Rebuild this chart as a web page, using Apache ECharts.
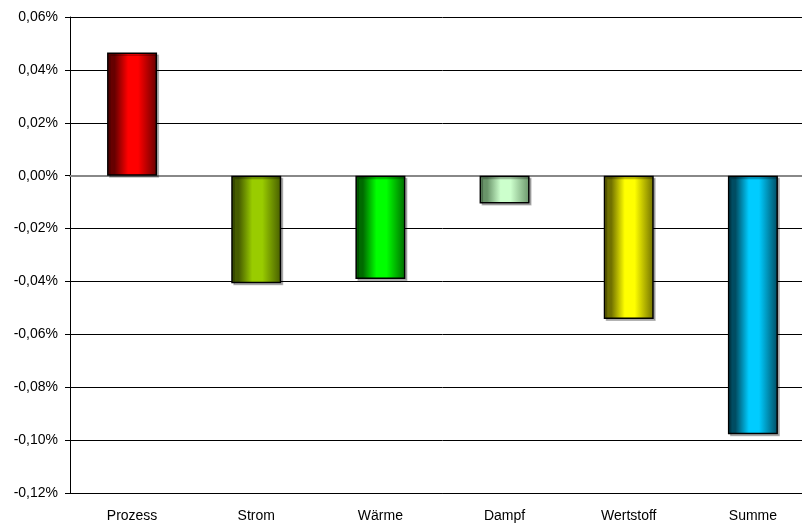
<!DOCTYPE html>
<html>
<head>
<meta charset="utf-8">
<script src="https://cdn.jsdelivr.net/npm/echarts@6/dist/echarts.min.js"></script>
<style>
  html, body { margin: 0; padding: 0; background: #fff; overflow: hidden; width: 802px; height: 525px; }
  /* the plot area runs slightly past the right edge of the window */
  #chart { width: 815px; height: 525px; }
</style>
</head>
<body>
<div id="chart"></div>
<script>
// Categories and their change in percent
const categories = ['Prozess', 'Strom', 'Wärme', 'Dampf', 'Wertstoff', 'Summe'];
const values = [0.0466, -0.0407, -0.0391, -0.0105, -0.0542, -0.0978];
// Bright centre / dark edge colour for each cylinder-shaded bar
const brightColors = ['#ff0000', '#99cc00', '#00ff00', '#ccffcc', '#ffff00', '#00ccff'];
const darkColors = ['#660000', '#465c00', '#006a00', '#6a946a', '#707000', '#004c62'];
// Value axis range (percent)
const yMin = -0.12, yMax = 0.06, yStep = 0.02;

function fmt(v) {
  const s = Math.abs(v) < 1e-9 ? '0,00' : v.toFixed(2).replace('.', ',');
  return s + '%';
}

function shade(i) {
  return new echarts.graphic.LinearGradient(0, 0, 1, 0, [
    { offset: 0, color: darkColors[i] },
    { offset: 0.15, color: darkColors[i] },
    { offset: 0.42, color: brightColors[i] },
    { offset: 0.62, color: brightColors[i] },
    { offset: 1, color: darkColors[i] }
  ]);
}

const chart = echarts.init(document.getElementById('chart'), null, { renderer: 'canvas' });
const font = 'Liberation Sans, Arial, sans-serif';

chart.setOption({
  animation: false,
  backgroundColor: '#ffffff',
  grid: { left: 70, right: 0, top: 17, bottom: 32, containLabel: false },
  xAxis: [
    {
      type: 'category',
      data: categories,
      position: 'bottom',
      axisLine: { onZero: false, lineStyle: { color: '#000', width: 1 } },
      axisTick: { show: false },
      axisLabel: { color: '#000', fontFamily: font, fontSize: 14, margin: 16 }
    },
    {
      // grey baseline at zero
      type: 'category',
      data: categories,
      axisLine: { onZero: true, onZeroAxisIndex: 0, lineStyle: { color: '#888', width: 2 } },
      axisTick: { show: false },
      axisLabel: { show: false },
      splitLine: { show: false }
    }
  ],
  yAxis: {
    type: 'value',
    min: yMin,
    max: yMax,
    interval: yStep,
    axisLine: { show: true, lineStyle: { color: '#000', width: 1 } },
    axisTick: { show: true, inside: false, length: 5, lineStyle: { color: '#000' } },
    axisLabel: { color: '#000', fontFamily: font, fontSize: 14, margin: 12, formatter: fmt },
    splitLine: { show: true, lineStyle: { color: '#000', width: 1 } }
  },
  series: [{
    type: 'bar',
    xAxisIndex: 0,
    barWidth: 50,
    z: 3,
    data: values.map((v, i) => ({
      value: v,
      itemStyle: {
        color: shade(i),
        borderColor: '#000',
        borderWidth: 1.5,
        shadowColor: 'rgba(0,0,0,0.25)',
        shadowOffsetX: 2,
        shadowOffsetY: 2,
        shadowBlur: 0
      }
    }))
  }]
});
</script>
</body>
</html>
